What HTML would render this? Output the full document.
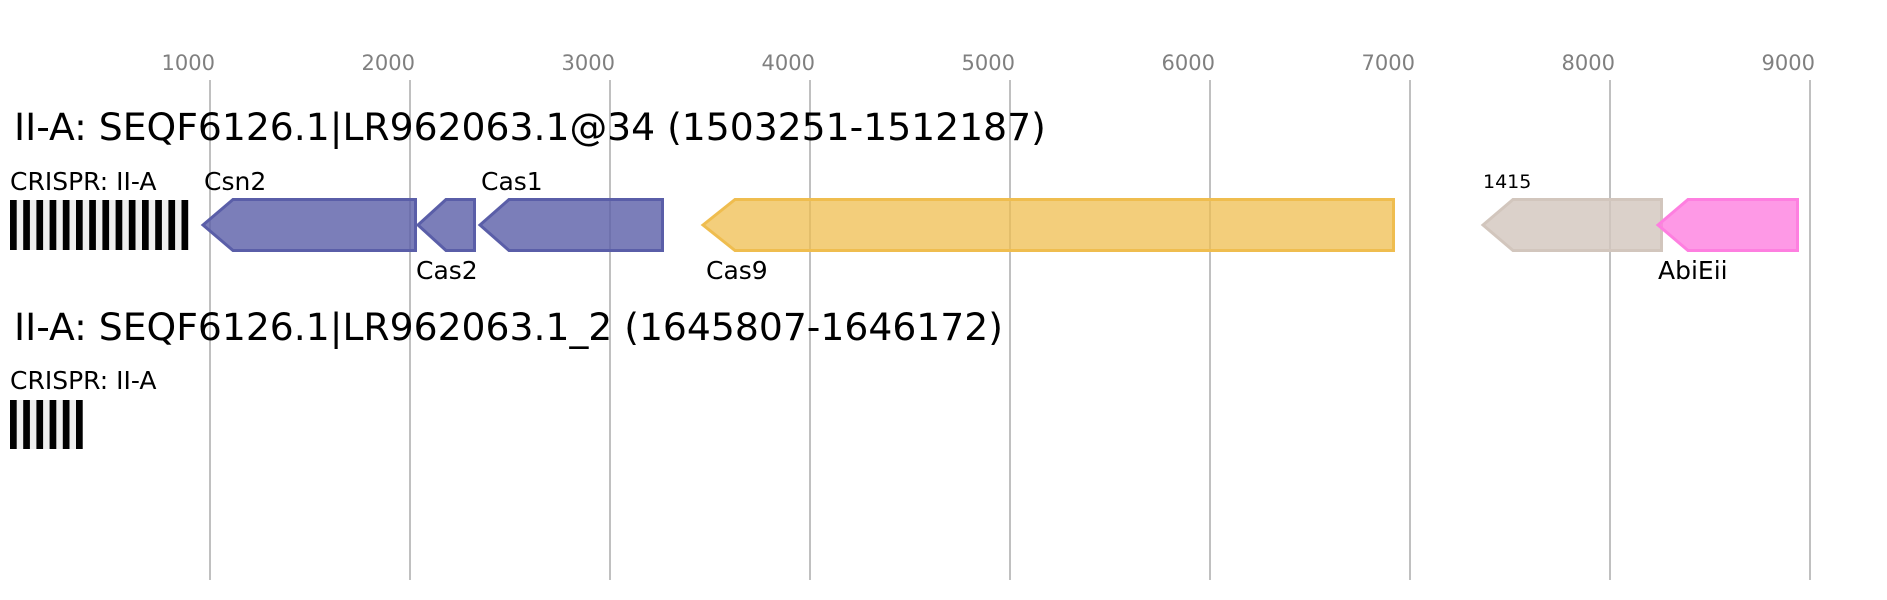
<!DOCTYPE html>
<html><head><meta charset="utf-8"><style>
html,body{margin:0;padding:0;background:#fff;}
svg{display:block;font-family:"DejaVu Sans","Liberation Sans",sans-serif;}
</style></head><body>
<svg width="1887" height="600" viewBox="0 0 1887 600" xmlns="http://www.w3.org/2000/svg">
<g stroke="#c0c0c0" stroke-width="2">
<line x1="210" y1="80" x2="210" y2="580"/>
<line x1="410" y1="80" x2="410" y2="580"/>
<line x1="610" y1="80" x2="610" y2="580"/>
<line x1="810" y1="80" x2="810" y2="580"/>
<line x1="1010" y1="80" x2="1010" y2="580"/>
<line x1="1210" y1="80" x2="1210" y2="580"/>
<line x1="1410" y1="80" x2="1410" y2="580"/>
<line x1="1610" y1="80" x2="1610" y2="580"/>
<line x1="1810" y1="80" x2="1810" y2="580"/>
</g>
<g fill="#808080" font-size="21" text-anchor="end">
<text x="215" y="70">1000</text><text x="415" y="70">2000</text><text x="615" y="70">3000</text>
<text x="815" y="70">4000</text><text x="1015" y="70">5000</text><text x="1215" y="70">6000</text>
<text x="1415" y="70">7000</text><text x="1615" y="70">8000</text><text x="1815" y="70">9000</text>
</g>
<text x="14" y="140" font-size="37.7" fill="#000">II-A: SEQF6126.1|LR962063.1@34 (1503251-1512187)</text>
<text x="14" y="340" font-size="37.7" fill="#000">II-A: SEQF6126.1|LR962063.1_2 (1645807-1646172)</text>

<g font-size="25" fill="#000">
<text x="10" y="190">CRISPR: II-A</text>
<text x="204" y="190">Csn2</text>
<text x="481" y="190">Cas1</text>
<text x="416" y="279">Cas2</text>
<text x="706" y="279">Cas9</text>
<text x="1658" y="279">AbiEii</text>
<text x="10" y="389">CRISPR: II-A</text>
</g>
<text x="1483" y="188" font-size="19" fill="#000">1415</text>

<!-- CRISPR arrays -->
<rect x="10" y="200" width="178" height="50" fill="#efefef"/>
<g fill="#000">
<rect x="10" y="200" width="6.7" height="50"/><rect x="23.2" y="200" width="6.7" height="50"/>
<rect x="36.4" y="200" width="6.7" height="50"/><rect x="49.6" y="200" width="6.7" height="50"/>
<rect x="62.8" y="200" width="6.7" height="50"/><rect x="76" y="200" width="6.7" height="50"/>
<rect x="89.2" y="200" width="6.7" height="50"/><rect x="102.4" y="200" width="6.7" height="50"/>
<rect x="115.6" y="200" width="6.7" height="50"/><rect x="128.8" y="200" width="6.7" height="50"/>
<rect x="142" y="200" width="6.7" height="50"/><rect x="155.2" y="200" width="6.7" height="50"/>
<rect x="168.4" y="200" width="6.7" height="50"/><rect x="181.5" y="200" width="6.7" height="50"/>
</g>
<rect x="10" y="400" width="73" height="49" fill="#efefef"/>
<g fill="#000">
<rect x="10" y="400" width="6.7" height="49"/><rect x="23.2" y="400" width="6.7" height="49"/>
<rect x="36.4" y="400" width="6.7" height="49"/><rect x="49.6" y="400" width="6.7" height="49"/>
<rect x="62.8" y="400" width="6.7" height="49"/><rect x="76" y="400" width="6.7" height="49"/>
</g>

<!-- genes -->
<g stroke-width="3" stroke-linejoin="miter">
<polygon points="203,225 233,199.5 415.5,199.5 415.5,250.5 233,250.5" fill="#5a5ea8" fill-opacity="0.8" stroke="#5a5ea8"/>
<polygon points="418,225 446,199.5 474.5,199.5 474.5,250.5 446,250.5" fill="#5a5ea8" fill-opacity="0.8" stroke="#5a5ea8"/>
<polygon points="480,225 509,199.5 662.5,199.5 662.5,250.5 509,250.5" fill="#5a5ea8" fill-opacity="0.8" stroke="#5a5ea8"/>
<polygon points="703,225 735,199.5 1393.5,199.5 1393.5,250.5 735,250.5" fill="#efbd4f" fill-opacity="0.75" stroke="#efbd4f"/>
<polygon points="1483,225 1513,199.5 1661.5,199.5 1661.5,250.5 1513,250.5" fill="#d2c6bd" fill-opacity="0.8" stroke="#d2c6bd"/>
<polygon points="1658,225 1688,199.5 1797.5,199.5 1797.5,250.5 1688,250.5" fill="#fe7fe0" fill-opacity="0.8" stroke="#fe7fe0"/>
</g>
</svg>
</body></html>
